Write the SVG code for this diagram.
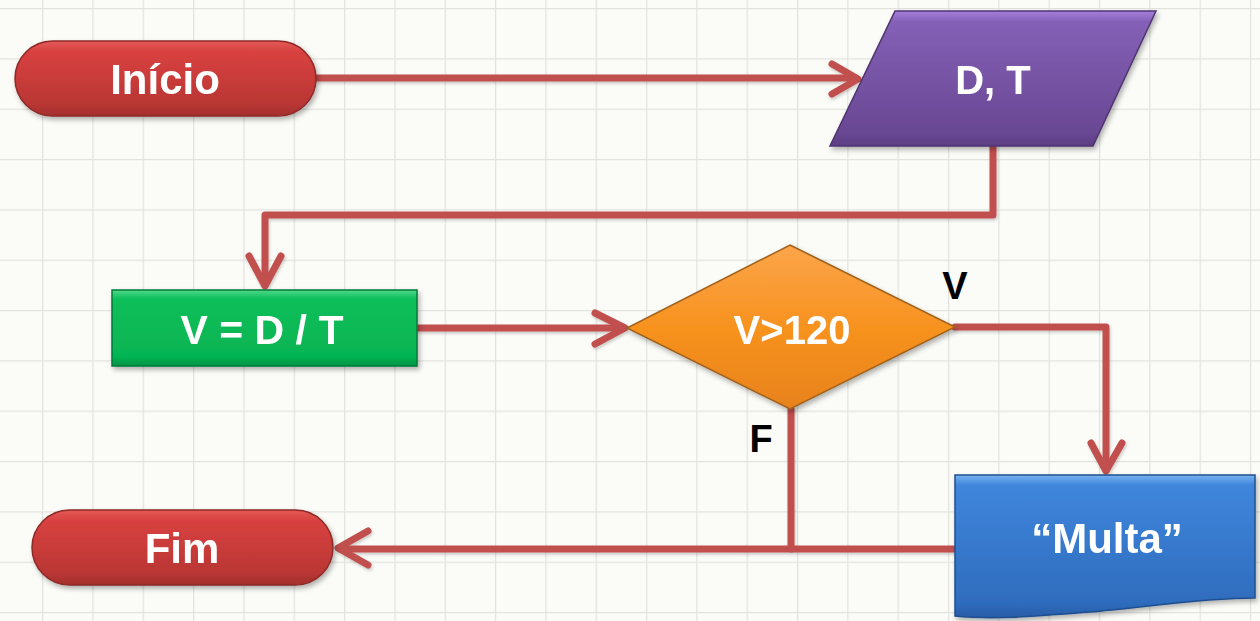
<svg xmlns="http://www.w3.org/2000/svg" width="1260" height="621" viewBox="0 0 1260 621">
<defs>
<pattern id="grid" x="42" y="8" width="50.33" height="50.33" patternUnits="userSpaceOnUse">
<path d="M0.5,0 V50.33 M0,0.5 H50.33" fill="none" stroke="#e2e3de" stroke-width="1.5"/>
</pattern>
<linearGradient id="gRed" x1="0" y1="0" x2="0" y2="1">
<stop offset="0" stop-color="#e35a58"/><stop offset="0.15" stop-color="#d8413f"/><stop offset="0.85" stop-color="#b93634"/><stop offset="1" stop-color="#a22e2c"/>
</linearGradient>
<linearGradient id="gPurple" x1="0" y1="0" x2="0" y2="1">
<stop offset="0" stop-color="#a77fdc"/><stop offset="0.08" stop-color="#8460b6"/><stop offset="0.9" stop-color="#6a4894"/><stop offset="1" stop-color="#5b3d82"/>
</linearGradient>
<linearGradient id="gGreen" x1="0" y1="0" x2="0" y2="1">
<stop offset="0" stop-color="#4fd98a"/><stop offset="0.12" stop-color="#0cbf5a"/><stop offset="0.88" stop-color="#06b452"/><stop offset="1" stop-color="#059445"/>
</linearGradient>
<linearGradient id="gOrange" x1="0" y1="0" x2="0" y2="1">
<stop offset="0" stop-color="#fca54a"/><stop offset="0.5" stop-color="#f7921f"/><stop offset="1" stop-color="#e8821a"/>
</linearGradient>
<linearGradient id="gBlue" x1="0" y1="0" x2="0" y2="1">
<stop offset="0" stop-color="#7ab3f0"/><stop offset="0.07" stop-color="#3f86dc"/><stop offset="0.9" stop-color="#2f6cbd"/><stop offset="1" stop-color="#275ca6"/>
</linearGradient>
<filter id="sh" x="-10%" y="-10%" width="125%" height="130%">
<feDropShadow dx="2" dy="3" stdDeviation="2.5" flood-color="#000" flood-opacity="0.3"/>
</filter>
<filter id="lsh" x="-5%" y="-5%" width="110%" height="115%">
<feDropShadow dx="1" dy="2" stdDeviation="1.5" flood-color="#000" flood-opacity="0.2"/>
</filter>
</defs>
<style>
.lbl{font-family:"Liberation Sans",Arial,sans-serif;font-weight:bold;fill:#ffffff;text-anchor:middle}
.tag{font-family:"Liberation Sans",Arial,sans-serif;font-weight:bold;fill:#000000;text-anchor:middle}
.con{fill:none;stroke:#c0504d;stroke-width:7;stroke-linecap:round;stroke-linejoin:round}
</style>
<rect width="1260" height="621" fill="#fbfbf8"/>
<rect width="1260" height="621" fill="url(#grid)"/>

<g id="connectors" filter="url(#lsh)">
<path class="con" d="M316,78 H855"/>
<path class="con" d="M832,64 L858,79 L832,94"/>
<path class="con" d="M993,146 V215 H265 V285"/>
<path class="con" d="M249,256 L265,286 L281,256"/>
<path class="con" d="M417,328 H623"/>
<path class="con" d="M595,313 L625,328 L595,344"/>
<path class="con" d="M955,327 H1106 V470"/>
<path class="con" d="M1091,443 L1106,471 L1122,443"/>
<path class="con" d="M791,409 V549"/>
<path class="con" d="M955,549 H340"/>
<path class="con" d="M368,531 L338,548 L368,565"/>
</g>

<g id="inicio" filter="url(#sh)">
<rect x="15" y="41" width="301" height="75" rx="37.5" fill="url(#gRed)" stroke="#8e2a28" stroke-width="1.5"/>
<text class="lbl" x="165" y="94" font-size="42">Início</text>
</g>

<g id="entrada" filter="url(#sh)">
<path d="M895,11 H1156 L1093,146 H830 Z" fill="url(#gPurple)" stroke="#4e3470" stroke-width="1.5"/>
<text class="lbl" x="993" y="94" font-size="40">D, T</text>
</g>

<g id="calculo" filter="url(#sh)">
<rect x="112" y="290" width="305" height="76" fill="url(#gGreen)" stroke="#047a3a" stroke-width="1.5"/>
<text class="lbl" x="262" y="344" font-size="41">V = D / T</text>
</g>

<g id="decisao" filter="url(#sh)">
<path d="M790,245 L955,327 L790,409 L627,328 Z" fill="url(#gOrange)" stroke="#a0621c" stroke-width="1.5"/>
<text class="lbl" x="792" y="344" font-size="40">V&gt;120</text>
</g>

<g id="multa" filter="url(#sh)">
<path d="M955,475 H1255 V598 C1200,598 1140,608 1090,612 C1040,616 995,620 955,616 Z" fill="url(#gBlue)" stroke="#1f4f8f" stroke-width="1.5"/>
<text class="lbl" x="1107" y="553" font-size="42">“Multa”</text>
</g>

<g id="fim" filter="url(#sh)">
<rect x="32" y="510" width="301" height="75" rx="37.5" fill="url(#gRed)" stroke="#8e2a28" stroke-width="1.5"/>
<text class="lbl" x="182" y="563" font-size="42">Fim</text>
</g>

<g id="labels">
<text class="tag" x="955" y="299" font-size="38">V</text>
<text class="tag" x="761" y="452" font-size="38">F</text>
</g>
</svg>
